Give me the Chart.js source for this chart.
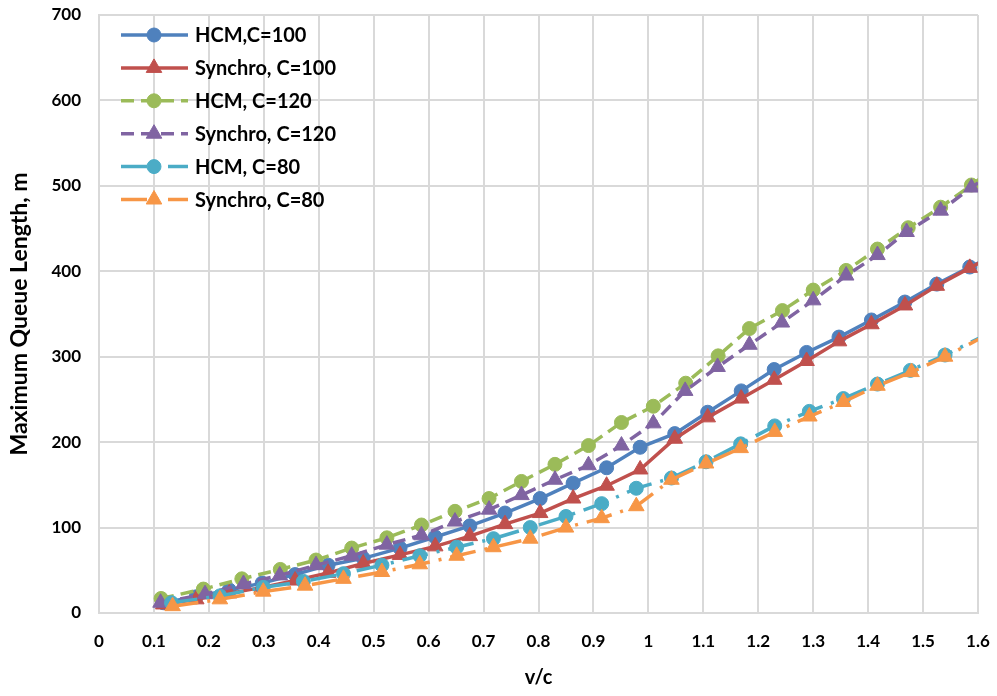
<!DOCTYPE html>
<html>
<head>
<meta charset="utf-8">
<script src="https://cdn.jsdelivr.net/npm/chart.js@4.4.1/dist/chart.umd.min.js"></script>
<style>
  html, body { margin: 0; padding: 0; background: #fff; }
</style>
</head>
<body>
<canvas id="chart" width="997" height="696"></canvas>
<script>
// values (v/c, queue length in m)
const hcm100X = [0.117, 0.177, 0.237, 0.297, 0.357, 0.417, 0.481, 0.548, 0.612, 0.675, 0.739, 0.803, 0.863, 0.924, 0.985, 1.048, 1.108, 1.169, 1.229, 1.288, 1.347, 1.406, 1.467, 1.525, 1.585, 1.645];
const hcm100Y = [12, 19, 27, 35, 45, 56, 64, 76, 89, 102, 117, 134, 152, 170, 194, 210, 235, 260, 285, 305, 323, 343, 364, 385, 405, 423];

const syn100X = [0.117, 0.177, 0.237, 0.297, 0.357, 0.417, 0.481, 0.548, 0.612, 0.675, 0.739, 0.803, 0.863, 0.924, 0.985, 1.048, 1.108, 1.169, 1.229, 1.288, 1.347, 1.406, 1.467, 1.525, 1.585, 1.645];
const syn100Y = [10, 16, 23, 30, 38, 47, 58, 68, 78, 90, 104, 117, 134, 149, 168, 204, 229, 251, 273, 295, 318, 338, 360, 383, 404, 425];

const hcm120X = [0.113, 0.19, 0.26, 0.33, 0.395, 0.46, 0.524, 0.587, 0.648, 0.71, 0.769, 0.83, 0.891, 0.951, 1.009, 1.068, 1.127, 1.184, 1.244, 1.30, 1.36, 1.417, 1.473, 1.532, 1.588, 1.65];
const hcm120Y = [17, 28, 40, 51, 62, 76, 88, 103, 119, 134, 154, 174, 196, 223, 242, 269, 301, 333, 354, 378, 401, 426, 451, 475, 501, 530];

const syn120X = [0.112, 0.193, 0.263, 0.329, 0.395, 0.46, 0.524, 0.587, 0.648, 0.71, 0.769, 0.83, 0.891, 0.951, 1.009, 1.067, 1.126, 1.184, 1.243, 1.30, 1.36, 1.417, 1.47, 1.532, 1.588, 1.65];
const syn120Y = [12, 22, 34, 44, 56, 67, 80, 91, 107, 121, 138, 156, 173, 196, 222, 260, 288, 314, 340, 366, 395, 419, 446, 471, 498, 526];

const hcm80X = [0.132, 0.22, 0.299, 0.372, 0.445, 0.515, 0.584, 0.651, 0.718, 0.785, 0.85, 0.915, 0.978, 1.042, 1.105, 1.168, 1.23, 1.293, 1.355, 1.417, 1.477, 1.54, 1.66];
const hcm80Y = [12, 20, 30, 37, 46, 56, 67, 77, 87, 100, 113, 128, 146, 158, 177, 198, 219, 236, 251, 268, 284, 302, 340];

const syn80X = [0.134, 0.22, 0.299, 0.375, 0.445, 0.515, 0.584, 0.651, 0.718, 0.785, 0.85, 0.915, 0.978, 1.042, 1.105, 1.168, 1.23, 1.293, 1.355, 1.417, 1.479, 1.54, 1.66];
const syn80Y = [8, 16, 25, 32, 40, 48, 57, 67, 77, 87, 100, 111, 125, 156, 175, 193, 212, 230, 247, 266, 282, 300, 340];

const seriesNames = ['HCM,C=100', 'Synchro, C=100', 'HCM, C=120', 'Synchro, C=120', 'HCM, C=80', 'Synchro, C=80'];
const seriesColors = ['#4F81BD', '#C0504D', '#9BBB59', '#8064A2', '#4BACC6', '#F79646'];

const toPoints = (xs, ys) => xs.map((x, i) => ({ x: x, y: ys[i] }));

const dash = [13, 7];
const dashDot = [26, 9, 3, 9];

let makeSet = (i, pts, style, borderDash) => ({
    label: seriesNames[i],
    data: pts,
    showLine: true,
    borderColor: seriesColors[i],
    backgroundColor: seriesColors[i],
    pointBackgroundColor: seriesColors[i],
    pointBorderColor: seriesColors[i],
    pointBorderWidth: 1,
    pointStyle: style,
    pointRadius: style === 'triangle' ? 9 : 7,
    borderWidth: 3.5,
    borderDash: borderDash,
    clip: 0,
    order: 6 - i
});

const datasets = [
    makeSet(0, toPoints(hcm100X, hcm100Y), 'circle', []),
    makeSet(1, toPoints(syn100X, syn100Y), 'triangle', []),
    makeSet(2, toPoints(hcm120X, hcm120Y), 'circle', dash),
    makeSet(3, toPoints(syn120X, syn120Y), 'triangle', dash),
    makeSet(4, toPoints(hcm80X, hcm80Y), 'circle', dashDot),
    makeSet(5, toPoints(syn80X, syn80Y), 'triangle', dashDot)
];

const fontFamily = 'Lato, "Open Sans", sans-serif';

// legend drawn inside the plot, top-left, like the original
const insideLegend = {
    id: 'insideLegend',
    afterDraw(chart) {
        const ctx = chart.ctx;
        chart.data.datasets.forEach((ds, i) => {
            const y = 35 + i * 32.9;
            ctx.save();
            ctx.strokeStyle = ds.borderColor;
            ctx.lineWidth = ds.borderWidth;
            ctx.setLineDash(ds.borderDash);
            ctx.beginPath();
            ctx.moveTo(121, y);
            ctx.lineTo(188, y);
            ctx.stroke();
            ctx.setLineDash([]);
            ctx.fillStyle = ds.pointBackgroundColor;
            ctx.lineWidth = 1;
            ctx.beginPath();
            const r = ds.pointRadius;
            if (ds.pointStyle === 'triangle') {
                let rad = 0;
                ctx.moveTo(154 + Math.sin(rad) * r, y - Math.cos(rad) * r);
                rad += Math.PI * 2 / 3;
                ctx.lineTo(154 + Math.sin(rad) * r, y - Math.cos(rad) * r);
                rad += Math.PI * 2 / 3;
                ctx.lineTo(154 + Math.sin(rad) * r, y - Math.cos(rad) * r);
                ctx.closePath();
            } else {
                ctx.arc(154, y, r, 0, Math.PI * 2);
            }
            ctx.fill();
            ctx.stroke();
            ctx.fillStyle = '#000';
            ctx.font = 'bold 20px ' + fontFamily;
            ctx.textBaseline = 'middle';
            ctx.textAlign = 'left';
            ctx.fillText(ds.label, 195, y + 1);
            ctx.restore();
        });
    }
};

const canvas = document.querySelector('#chart');

const chart = new Chart(canvas, {
    type: 'scatter',
    data: { datasets: datasets },
    plugins: [insideLegend],
    options: {
        responsive: false,
        animation: false,
        devicePixelRatio: 1,
        layout: { padding: { top: 15, right: 19, left: 0, bottom: 0 } },
        plugins: {
            legend: { display: false },
            tooltip: { enabled: false }
        },
        scales: {
            x: {
                type: 'linear',
                min: 0,
                max: 1.6,
                afterFit: (scale) => {
                    scale.height = 83;
                    scale.paddingLeft = 0;
                    scale.paddingRight = 0;
                },
                ticks: {
                    stepSize: 0.1,
                    autoSkip: false,
                    maxRotation: 0,
                    padding: 18,
                    color: '#000',
                    font: { family: fontFamily, size: 17, weight: 'bold' },
                    callback: (v) => Number(v.toFixed(1)).toString()
                },
                grid: { color: '#D9D9D9', lineWidth: 2, drawTicks: false },
                border: { color: '#D9D9D9', width: 2 },
                title: {
                    display: true,
                    text: 'v/c',
                    color: '#000',
                    font: { family: fontFamily, size: 20, weight: 'bold' },
                    padding: { top: 0, bottom: 6 }
                }
            },
            y: {
                min: 0,
                max: 700,
                afterFit: (scale) => {
                    scale.width = 99;
                    scale.paddingTop = 0;
                    scale.paddingBottom = 0;
                },
                ticks: {
                    stepSize: 100,
                    padding: 18,
                    color: '#000',
                    font: { family: fontFamily, size: 17, weight: 'bold' }
                },
                grid: { color: '#D9D9D9', lineWidth: 2, drawTicks: false },
                border: { color: '#D9D9D9', width: 2 },
                title: {
                    display: true,
                    text: 'Maximum Queue Length, m',
                    color: '#000',
                    font: { family: fontFamily, size: 23, weight: 'bold' },
                    padding: { top: 6, bottom: 0 }
                }
            }
        }
    }
});
</script>
</body>
</html>
